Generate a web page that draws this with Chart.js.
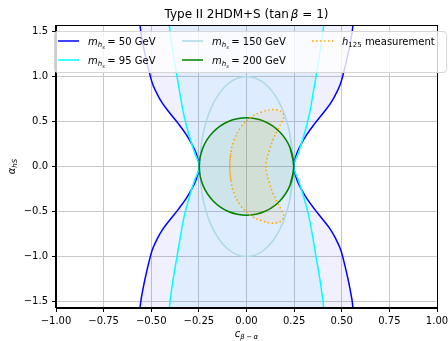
<!DOCTYPE html>
<html>
<head>
<meta charset="utf-8">
<script src="https://cdn.jsdelivr.net/npm/chart.js@4.4.0/dist/chart.umd.min.js"></script>
<style>
  html, body { margin: 0; padding: 0; background: #fff; }
  canvas { display: block; }
</style>
</head>
<body>
<canvas id="chart" width="448" height="341"></canvas>
<script>
// axis ticks and limits
const xTicks = [-1, -0.75, -0.5, -0.25, 0, 0.25, 0.5, 0.75, 1];
const yTicks = [-1.5, -1, -0.5, 0, 0.5, 1, 1.5];
const yLimit = 1.5708;
const massLabels = ['50', '95', '150', '200'];

// m_hs = 50 GeV : two branches, bottom to top
const blueY      = [-1.5708, -1.47, -1.25, -1.0, -0.9, -0.8, -0.7, -0.6, -0.47, -0.36, -0.26, -0.16, -0.07, 0, 0.07, 0.16, 0.26, 0.36, 0.47, 0.6, 0.7, 0.8, 0.9, 1.0, 1.25, 1.47, 1.5708];
const blueLeftX  = [-0.559, -0.553, -0.533, -0.505, -0.49, -0.468, -0.441, -0.405, -0.356, -0.318, -0.29, -0.267, -0.254, -0.248, -0.254, -0.267, -0.29, -0.318, -0.356, -0.405, -0.441, -0.468, -0.49, -0.505, -0.533, -0.553, -0.559];
const blueRightX = [0.559, 0.553, 0.533, 0.505, 0.49, 0.468, 0.441, 0.405, 0.356, 0.318, 0.29, 0.267, 0.254, 0.248, 0.254, 0.267, 0.29, 0.318, 0.356, 0.405, 0.441, 0.468, 0.49, 0.505, 0.533, 0.553, 0.559];

// m_hs = 95 GeV
const cyanY      = [-1.5708, -1.47, -1.25, -1.0, -0.8, -0.6, -0.45, -0.3, -0.15, 0, 0.15, 0.3, 0.45, 0.6, 0.8, 1.0, 1.25, 1.47, 1.5708];
const cyanLeftX  = [-0.405, -0.4, -0.385, -0.365, -0.349, -0.332, -0.315, -0.295, -0.272, -0.248, -0.272, -0.295, -0.315, -0.332, -0.349, -0.365, -0.385, -0.4, -0.405];
const cyanRightX = [0.405, 0.4, 0.385, 0.365, 0.349, 0.332, 0.315, 0.295, 0.272, 0.248, 0.272, 0.295, 0.315, 0.332, 0.349, 0.365, 0.385, 0.4, 0.405];

// m_hs = 150 GeV (closed contour, first/last points overlap)
const ellX = [0.226, 0.245, 0.226, 0.173, 0.094, 0, -0.094, -0.173, -0.226, -0.245, -0.226, -0.173, -0.094, 0, 0.094, 0.173, 0.226, 0.245, 0.226];
const ellY = [-0.383, 0, 0.383, 0.707, 0.924, 1, 0.924, 0.707, 0.383, 0, -0.383, -0.707, -0.924, -1, -0.924, -0.707, -0.383, 0, 0.383];

// m_hs = 200 GeV
const circX = [0.229, 0.248, 0.229, 0.175, 0.095, 0, -0.095, -0.175, -0.229, -0.248, -0.229, -0.175, -0.095, 0, 0.095, 0.175, 0.229, 0.248, 0.229];
const circY = [-0.207, 0, 0.207, 0.382, 0.499, 0.54, 0.499, 0.382, 0.207, 0, -0.207, -0.382, -0.499, -0.54, -0.499, -0.382, -0.207, 0, 0.207];

// h125 measurement (crescent)
const hX = [-0.082, -0.088, -0.082, -0.068, -0.032, 0.025, 0.08, 0.125, 0.16, 0.185, 0.196,
            0.185, 0.165, 0.14, 0.12, 0.106, 0.103, 0.106, 0.12, 0.14, 0.165, 0.185, 0.196,
            0.185, 0.16, 0.125, 0.08, 0.025, -0.032, -0.068, -0.082, -0.088, -0.082];
const hY = [-0.15, 0, 0.15, 0.28, 0.43, 0.55, 0.605, 0.63, 0.628, 0.603, 0.555,
            0.49, 0.41, 0.3, 0.18, 0.07, 0, -0.07, -0.18, -0.3, -0.41, -0.49, -0.55,
            -0.6, -0.625, -0.627, -0.602, -0.55, -0.43, -0.28, -0.15, 0, 0.15];

function pts(xs, ys) {
    return xs.map((x, i) => ({ x: x, y: ys[i] }));
}

function font(size, italic) {
    return (italic ? 'italic ' : '') + size + 'px "DejaVu Sans"';
}

// draws a list of [text, size, italic, dy, gapAfter]
function drawRich(ctx, x, y, parts, align) {
    let total = 0;
    parts.forEach(p => {
        ctx.font = font(p[1], p[2]);
        total += ctx.measureText(p[0]).width + (p[4] || 0);
    });
    let cx = align === 'center' ? x - total / 2 : x;
    ctx.textAlign = 'left';
    ctx.textBaseline = 'alphabetic';
    parts.forEach(p => {
        ctx.font = font(p[1], p[2]);
        ctx.fillText(p[0], cx, y + (p[3] || 0));
        cx += ctx.measureText(p[0]).width + (p[4] || 0);
    });
}

function massParts(m) {
    return [['m', 10, true, 0, 0], ['h', 7, true, 2.2, 0], ['s', 5, true, 3.6, 2.5],
            ['= ' + m, 10, false, 0, 0], [' GeV', 10, false, 0, 0]];
}

const lineBase = { showLine: true, pointRadius: 0, borderWidth: 1.5, tension: 0.4, fill: false };

const datasets = [
    Object.assign({}, lineBase, { label: 'h125', data: pts(hX, hY), borderColor: '#ffa500', borderDash: [1.5, 2.5],
        fill: 'shape', backgroundColor: 'rgba(255,165,0,0.09)' }),
    Object.assign({}, lineBase, { label: massLabels[3], data: pts(circX, circY), borderColor: '#008000',
        fill: 'shape', backgroundColor: 'rgba(0,128,0,0.08)' }),
    Object.assign({}, lineBase, { label: massLabels[2], data: pts(ellX, ellY), borderColor: '#add8e6',
        fill: 'shape', backgroundColor: 'rgba(173,216,230,0.06)' }),
    Object.assign({}, lineBase, { label: massLabels[1], data: pts(cyanLeftX, cyanY), borderColor: '#00ffff' }),
    Object.assign({}, lineBase, { label: '', data: pts(cyanRightX, cyanY), borderColor: '#00ffff' }),
    Object.assign({}, lineBase, { label: massLabels[0], data: pts(blueLeftX, blueY), borderColor: '#0000ff' }),
    Object.assign({}, lineBase, { label: '', data: pts(blueRightX, blueY), borderColor: '#0000ff' }),
    // fills between the branches
    Object.assign({}, lineBase, { label: '', data: pts(cyanLeftX, cyanY).concat(pts(cyanRightX, cyanY).reverse()),
        borderWidth: 0, borderColor: 'rgba(0,0,0,0)', tension: 0, fill: 'shape', backgroundColor: 'rgba(0,200,255,0.065)' }),
    Object.assign({}, lineBase, { label: '', data: pts(blueLeftX, blueY).concat(pts(blueRightX, blueY).reverse()),
        borderWidth: 0, borderColor: 'rgba(0,0,0,0)', tension: 0, fill: 'shape', backgroundColor: 'rgba(0,0,255,0.06)' })
];

const decorations = {
    id: 'decorations',
    afterDatasetsDraw(chart) {
        const ctx = chart.ctx;
        const a = chart.chartArea;
        ctx.save();
        ctx.strokeStyle = '#000';
        ctx.lineWidth = 1;
        ctx.strokeRect(Math.round(a.left) - 0.5, Math.round(a.top) + 0.5,
                       Math.round(a.right) - Math.round(a.left) + 1, Math.round(a.bottom) - Math.round(a.top) - 1);
        ctx.restore();
    },
    afterDraw(chart) {
        const ctx = chart.ctx;
        const a = chart.chartArea;
        const cx = (a.left + a.right) / 2;
        ctx.save();
        ctx.fillStyle = '#000';

        // title
        drawRich(ctx, cx, 18, [['Type II 2HDM+S (tan', 12, false, 0, 2], ['β', 12, true, 0, 0],
                               [' = 1)', 12, false, 0, 0]], 'center');
        // x label
        drawRich(ctx, cx, 337, [['c', 10, true, 0, 0], ['β', 7, true, 2.2, 1.5], ['−', 7, false, 2.2, 1.5],
                                ['α', 7, true, 2.2, 0]], 'center');
        // y label
        ctx.save();
        ctx.translate(15, (a.top + a.bottom) / 2);
        ctx.rotate(-Math.PI / 2);
        drawRich(ctx, 0, 0, [['α', 10, true, 0, 0], ['hS', 7, true, 2.2, 0]], 'center');
        ctx.restore();

        // legend
        const bx = 54.5, by = 31.5, bw = 392, bh = 41, r = 3;
        ctx.beginPath();
        ctx.moveTo(bx + r, by);
        ctx.lineTo(bx + bw - r, by);
        ctx.arcTo(bx + bw, by, bx + bw, by + r, r);
        ctx.lineTo(bx + bw, by + bh - r);
        ctx.arcTo(bx + bw, by + bh, bx + bw - r, by + bh, r);
        ctx.lineTo(bx + r, by + bh);
        ctx.arcTo(bx, by + bh, bx, by + bh - r, r);
        ctx.lineTo(bx, by + r);
        ctx.arcTo(bx, by, bx + r, by, r);
        ctx.closePath();
        ctx.fillStyle = 'rgba(255,255,255,0.8)';
        ctx.fill();
        ctx.strokeStyle = '#d6d6d6';
        ctx.lineWidth = 1;
        ctx.stroke();

        const ds = chart.data.datasets;
        const entries = [
            { set: ds[5], x: 58, y: 41, parts: massParts(massLabels[0]) },
            { set: ds[2], x: 182, y: 41, parts: massParts(massLabels[2]) },
            { set: ds[0], x: 312, y: 41, parts: [['h', 10, true, 0, 0], ['125', 7, false, 2.2, 0], [' measurement', 10, false, 0, 0]] },
            { set: ds[3], x: 58, y: 60, parts: massParts(massLabels[1]) },
            { set: ds[1], x: 182, y: 60, parts: massParts(massLabels[3]) }
        ];
        entries.forEach(e => {
            ctx.save();
            ctx.strokeStyle = e.set.borderColor;
            ctx.lineWidth = 1.5;
            ctx.setLineDash(e.set.borderDash || []);
            ctx.beginPath();
            ctx.moveTo(e.x, e.y);
            ctx.lineTo(e.x + 21, e.y);
            ctx.stroke();
            ctx.restore();
            ctx.fillStyle = '#000';
            drawRich(ctx, e.x + 30, e.y + 4, e.parts, 'left');
        });
        ctx.restore();
    }
};

Chart.defaults.font.family = '"DejaVu Sans"';
Chart.defaults.font.size = 10;
Chart.defaults.color = '#000';

new Chart(document.getElementById('chart').getContext('2d'), {
    type: 'scatter',
    data: { datasets: datasets },
    options: {
        responsive: false,
        animation: false,
        events: [],
        layout: { padding: { top: 25, right: 11, left: 0, bottom: 0 } },
        plugins: { legend: { display: false }, title: { display: false }, tooltip: { enabled: false } },
        scales: {
            x: {
                type: 'linear', min: -1, max: 1,
                afterBuildTicks: s => { s.ticks = xTicks.map(v => ({ value: v })); },
                afterFit: s => { s.height = 33; s.paddingLeft = 0; s.paddingRight = 0; },
                ticks: { padding: 3, maxRotation: 0, autoSkip: false,
                         callback: v => v.toFixed(2).replace('-', '\u2212') },
                grid: { color: '#c8c8c8', lineWidth: 1, tickColor: '#000', tickLength: 4, tickWidth: 1 },
                border: { display: true, color: '#000', width: 1 }
            },
            y: {
                type: 'linear', min: -yLimit, max: yLimit,
                afterBuildTicks: s => { s.ticks = yTicks.map(v => ({ value: v })); },
                afterFit: s => { s.width = 56; s.paddingTop = 0; s.paddingBottom = 0; },
                ticks: { padding: 4, autoSkip: false,
                         callback: v => v.toFixed(1).replace('-', '\u2212') },
                grid: { color: '#c8c8c8', lineWidth: 1, tickColor: '#000', tickLength: 4, tickWidth: 1 },
                border: { display: true, color: '#000', width: 1 }
            }
        }
    },
    plugins: [decorations]
});
</script>
</body>
</html>
